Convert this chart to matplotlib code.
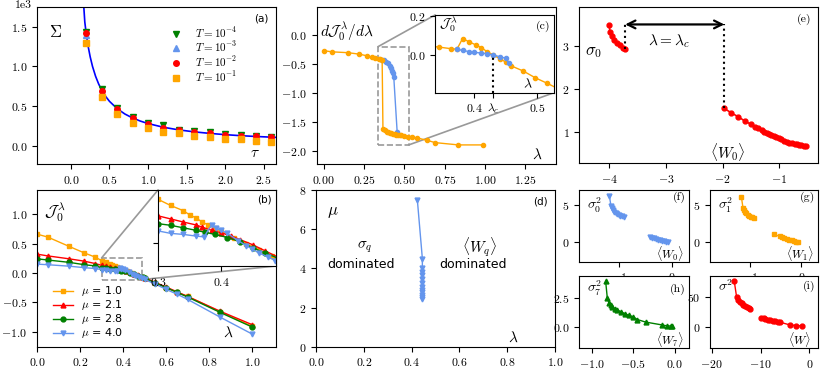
import numpy as np
import matplotlib
matplotlib.use("Agg")
import matplotlib.pyplot as plt
from matplotlib.patches import Rectangle, ConnectionPatch
from matplotlib.ticker import FuncFormatter

plt.rcParams['font.family'] = 'serif'
plt.rcParams['font.serif'] = ['cmr10', 'DejaVu Serif']
plt.rcParams['mathtext.fontset'] = 'cm'
plt.rcParams['xtick.labelsize'] = 8.5
plt.rcParams['ytick.labelsize'] = 8.5

ORANGE = 'orange'
BLUE = 'cornflowerblue'

# (a) Sigma vs tau
tau = [0.2, 0.4, 0.6, 0.8, 1.0, 1.2, 1.4, 1.6, 1.8, 2.0, 2.2, 2.4, 2.6]
sig_T4 = [1430, 710, 470, 360, 290, 265, 200, 180, 170, 150, 130, 120, 110]
sig_T3 = [1400, 680, 450, 340, 270, 220, 190, 170, 150, 130, 120, 110, 100]
sig_T2 = [1420, 690, 465, 350, 275, 230, 195, 175, 155, 140, 125, 125, 108]
sig_T1 = [1300, 620, 395, 285, 230, 175, 155, 125, 105, 80, 85, 60, 50]
tau_fit = [0.165, 0.18, 0.2, 0.22, 0.25, 0.28, 0.32, 0.36, 0.4, 0.45, 0.5, 0.6,
           0.7, 0.8, 0.9, 1.0, 1.2, 1.4, 1.6, 1.8, 2.0, 2.2, 2.4, 2.65]
sig_fit = [1780, 1560, 1400, 1270, 1120, 1000, 875, 778, 700, 622, 560, 467,
           400, 350, 311, 280, 233, 200, 175, 156, 140, 127, 117, 106]

# (b) J_0^lambda vs lambda for several mu
lam_mu1 = [0, 0.05, 0.15, 0.22, 0.27, 0.30, 0.32, 0.34, 0.35, 0.36, 0.37, 0.38, 0.39,
           0.40, 0.42, 0.44, 0.46, 0.48, 0.5, 0.55, 0.6, 0.65, 0.7, 0.85, 1.0]
J_mu1 = [0.66, 0.61, 0.45, 0.34, 0.27, 0.21, 0.18, 0.155, 0.135, 0.12, 0.10, 0.085, 0.07,
         0.055, 0.025, -0.005, -0.035, -0.065, -0.09, -0.17, -0.25, -0.33, -0.40, -0.66, -0.91]
lam_mu2 = [0, 0.05, 0.15, 0.22, 0.27, 0.30, 0.32, 0.34, 0.36, 0.37, 0.385, 0.40, 0.415,
           0.43, 0.45, 0.47, 0.49, 0.5, 0.55, 0.6, 0.65, 0.7, 0.85, 1.0]
J_mu2 = [0.32, 0.29, 0.24, 0.20, 0.16, 0.13, 0.115, 0.10, 0.086, 0.075, 0.06, 0.048, 0.033,
         0.015, -0.01, -0.04, -0.07, -0.085, -0.16, -0.24, -0.32, -0.40, -0.65, -0.88]
lam_mu3 = [0, 0.05, 0.15, 0.22, 0.27, 0.30, 0.32, 0.34, 0.36, 0.375, 0.39, 0.41, 0.43,
           0.45, 0.47, 0.49, 0.5, 0.55, 0.6, 0.65, 0.7, 0.85, 1.0]
J_mu3 = [0.24, 0.22, 0.18, 0.14, 0.12, 0.092, 0.084, 0.072, 0.06, 0.05, 0.04, 0.025, 0.005,
         -0.025, -0.05, -0.075, -0.09, -0.17, -0.25, -0.33, -0.41, -0.67, -0.92]
lam_mu4 = [0, 0.05, 0.15, 0.22, 0.27, 0.30, 0.32, 0.34, 0.36, 0.373, 0.385, 0.392, 0.40,
           0.41, 0.427, 0.44, 0.449, 0.46, 0.475, 0.486, 0.5, 0.55, 0.6, 0.65, 0.7, 0.85, 1.0]
J_mu4 = [0.15, 0.14, 0.115, 0.09, 0.075, 0.057, 0.045, 0.04, 0.032, 0.028, 0.087, 0.07, 0.06,
         0.045, 0.01, -0.015, -0.03, -0.05, -0.07, -0.087, -0.11, -0.19, -0.28, -0.36, -0.45,
         -0.75, -1.04]
mu_labels = ['1.0', '2.1', '2.8', '4.0']

# (c) dJ/dlambda and inset J
lam_c_or = [0, 0.05, 0.15, 0.22, 0.27, 0.30, 0.32, 0.34, 0.35, 0.362, 0.367, 0.38, 0.39,
            0.40, 0.41, 0.42, 0.43, 0.44, 0.45, 0.46, 0.47, 0.48, 0.50, 0.52, 0.55, 0.58,
            0.64, 0.69, 0.835, 0.99]
dJ_c_or = [-0.27, -0.29, -0.305, -0.33, -0.36, -0.385, -0.40, -0.415, -0.42, -0.43, -1.62,
           -1.65, -1.67, -1.68, -1.69, -1.70, -1.71, -1.715, -1.72, -1.725, -1.73, -1.735,
           -1.745, -1.755, -1.765, -1.78, -1.82, -1.86, -1.90, -1.90]
lam_c_bl = [0.36, 0.372, 0.383, 0.397, 0.409, 0.418, 0.424, 0.430, 0.434, 0.455]
dJ_c_bl = [-0.43, -0.44, -0.46, -0.49, -0.536, -0.576, -0.617, -0.66, -0.72, -1.67]
lam_ci_or = [0.32, 0.343, 0.362, 0.372, 0.381, 0.392, 0.402, 0.411, 0.42, 0.43, 0.44, 0.45,
             0.459, 0.478, 0.497, 0.516, 0.54]
J_ci_or = [0.05, 0.042, 0.034, 0.031, 0.085, 0.068, 0.053, 0.039, 0.019, 0.002, -0.017,
           -0.034, -0.054, -0.08, -0.114, -0.142, -0.18]
lam_ci_bl = [0.372, 0.381, 0.391, 0.40, 0.41, 0.42, 0.43, 0.44, 0.45, 0.455]
J_ci_bl = [0.031, 0.025, 0.019, 0.015, 0.012, 0.008, 0.002, -0.007, -0.015, -0.04]
lam_crit = 0.43

# (d) phase boundary
lam_d = [0.424, 0.445, 0.445, 0.445, 0.445, 0.445, 0.445, 0.445, 0.445, 0.445, 0.445,
         0.445, 0.445]
mu_d = [7.5, 4.5, 4.0, 3.8, 3.65, 3.45, 3.25, 3.05, 2.9, 2.8, 2.65, 2.55, 2.45]

# (e) sigma_0 vs <W_0>
e_x1 = [-4.0, -3.99, -3.96, -3.92, -3.87, -3.82, -3.76, -3.72]
e_y1 = [3.48, 3.33, 3.22, 3.14, 3.07, 3.01, 2.96, 2.92]
e_x2 = [-1.97, -1.85, -1.73, -1.61, -1.5, -1.43, -1.37, -1.31, -1.26, -1.22, -1.18, -1.14,
        -1.1, -1.05, -1.0, -0.96, -0.91, -0.87, -0.82, -0.78, -0.73, -0.69, -0.65, -0.61,
        -0.56, -0.52]
e_y2 = [1.54, 1.44, 1.35, 1.25, 1.17, 1.11, 1.08, 1.04, 1.0, 0.97, 0.95, 0.92, 0.9, 0.87,
        0.845, 0.82, 0.79, 0.76, 0.745, 0.73, 0.715, 0.70, 0.69, 0.68, 0.675, 0.67]

# (f)-(i) variances vs means
f_x1 = [-1.19, -1.16, -1.14, -1.12, -1.10, -1.07, -1.04, -1.01, -0.98, -0.95, -0.92]
f_y1 = [6.2, 4.9, 4.55, 4.3, 4.1, 3.95, 3.8, 3.68, 3.57, 3.47, 3.38]
f_x2 = [-0.42, -0.38, -0.34, -0.3, -0.26, -0.22, -0.18, -0.14, -0.1, -0.07]
f_y2 = [0.75, 0.62, 0.52, 0.43, 0.35, 0.27, 0.2, 0.14, 0.09, 0.05]
g_x1 = [-1.16, -1.13, -1.11, -1.09, -1.07, -1.04, -1.01, -0.98, -0.95, -0.92]
g_y1 = [6.0, 4.6, 4.35, 4.1, 3.9, 3.7, 3.55, 3.45, 3.33, 3.25]
g_x2 = [-0.53, -0.42, -0.38, -0.33, -0.28, -0.23, -0.18, -0.14, -0.1, -0.07]
g_y2 = [1.1, 0.78, 0.66, 0.55, 0.44, 0.34, 0.24, 0.16, 0.09, 0.05]
h_x = [-0.83, -0.81, -0.79, -0.77, -0.75, -0.72, -0.69, -0.65, -0.6, -0.55, -0.5, -0.45,
       -0.35, -0.15, -0.1, -0.05, -0.03]
h_y = [3.9, 2.45, 2.05, 1.85, 1.7, 1.55, 1.45, 1.3, 1.13, 0.98, 0.85, 0.62, 0.4, 0.15,
       0.08, 0.06, 0.04]
i_x1 = [-15.4, -14.9, -14.6, -14.2, -13.9, -13.5, -13.2, -12.8, -12.4, -12.1]
i_y1 = [78, 50, 46, 42, 39.5, 37, 35, 33, 31, 29.5]
i_x2 = [-9.9, -9.4, -9.0, -8.5, -8.0, -7.5, -7.0, -6.5, -6.0, -4.0, -2.7, -1.6]
i_y2 = [15.5, 14.2, 13.2, 12.2, 11.2, 10.3, 9.4, 8.5, 7.6, 3.0, 2.0, 1.3]

W, H = 822, 373
fig = plt.figure(figsize=(W / 100, H / 100), dpi=100)


def box(l, t, r, b):
    # pixel box -> figure fraction
    return [l / W, 1 - b / H, (r - l) / W, (b - t) / H]


def mfmt(dec, scale=1.0):
    # tick labels as mathtext so the minus comes from the cm symbol font
    def f(v, pos):
        s = '%.*f' % (dec, v / scale)
        if s.startswith('-') and float(s) == 0:
            s = s[1:]
        return '$%s$' % s
    return FuncFormatter(f)


def ticks(ax, xt, yt, xdec, ydec, yscale=1.0):
    ax.set_xticks(xt)
    ax.set_yticks(yt)
    ax.xaxis.set_major_formatter(mfmt(xdec))
    ax.yaxis.set_major_formatter(mfmt(ydec, yscale))


def lab(ax, s, x=0.97, y=0.96, sans=False):
    kw = dict(family='DejaVu Sans', fontsize=7.5) if sans else dict(fontsize=8.5)
    ax.text(x, y, s, transform=ax.transAxes, ha='right', va='top', **kw)


def txt(ax, x, y, s, size=11, **kw):
    ax.text(x, y, s, transform=ax.transAxes, fontsize=size, **kw)


# ---------- (a)
ax = fig.add_axes(box(37, 7.3, 276, 164))
ax.plot(tau_fit, sig_fit, color='blue', lw=1.2, zorder=1)
ax.plot(tau, sig_T4, 'v', color='green', ms=4, label=r'$T = 10^{-4}$')
ax.plot(tau, sig_T3, '^', color=BLUE, ms=4, label=r'$T = 10^{-3}$')
ax.plot(tau, sig_T2, 'o', color='red', ms=4, label=r'$T = 10^{-2}$')
ax.plot(tau, sig_T1, 's', color=ORANGE, ms=4, label=r'$T = 10^{-1}$')
ax.set_xlim(-0.44, 2.66)
ax.set_ylim(-230, 1745)
ticks(ax, [0, 0.5, 1.0, 1.5, 2.0, 2.5], [0, 500, 1000, 1500], 1, 1, yscale=1000)
ax.text(-0.02, 1.045, '1e3', transform=ax.transAxes, ha='right', va='top', fontsize=8.5)
ax.legend(loc='upper left', bbox_to_anchor=(0.55, 0.9), frameon=False, fontsize=8,
          handlelength=1, handletextpad=1.2, labelspacing=0.0, borderpad=0.2,
          borderaxespad=0)
txt(ax, 0.05, 0.84, r'$\Sigma$', size=12, va='center')
txt(ax, 0.91, 0.07, r'$\tau$', size=11, ha='center', va='center')
lab(ax, '(a)', sans=True)

# ---------- (b)
ax = fig.add_axes(box(37, 190, 276, 346.5))
series_b = [(lam_mu1, J_mu1, ORANGE, 's'), (lam_mu2, J_mu2, 'red', '^'),
            (lam_mu3, J_mu3, 'green', 'o'), (lam_mu4, J_mu4, BLUE, 'v')]
for (lx, jy, c, m), ml in zip(series_b, mu_labels):
    ax.plot(lx, jy, marker=m, color=c, ms=3.5, lw=1, label=r'$\mu$ = ' + ml)
ax.set_xlim(0, 1.11)
ax.set_ylim(-1.25, 1.41)
ticks(ax, [0, 0.2, 0.4, 0.6, 0.8, 1.0], [-1.0, -0.5, 0.0, 0.5, 1.0], 1, 1)
ax.legend(loc='lower left', bbox_to_anchor=(0.05, 0.01), frameon=False,
          prop={'family': 'DejaVu Sans', 'size': 8}, handlelength=1.8,
          handletextpad=0.7, labelspacing=0.0, borderaxespad=0)
txt(ax, 0.03, 0.86, r'$\mathcal{J}_0^{\,\lambda}$', size=12, va='center')
txt(ax, 0.8, 0.09, r'$\lambda$', size=11, ha='center', va='center')
axb = ax
rect_b = (0.3, -0.113, 0.487, 0.255)
ax.add_patch(Rectangle((rect_b[0], rect_b[1]), rect_b[2] - rect_b[0], rect_b[3] - rect_b[1],
                       fill=False, ls='--', ec='0.6', lw=1.2))

ins = fig.add_axes(box(158, 190, 276, 266))
for lx, jy, c, m in series_b:
    ins.plot(lx, jy, marker=m, color=c, ms=3.5, lw=1)
ins.set_xlim(rect_b[0], rect_b[2])
ins.set_ylim(rect_b[1], rect_b[3])
ins.set_xticks([0.3, 0.4])
ins.xaxis.set_major_formatter(mfmt(1))
ins.set_yticks([0.0])
ins.set_yticklabels([''])
lab(ins, '(b)', x=0.96, y=0.94, sans=True)
for pa, pb in [((rect_b[0], rect_b[3]), (0, 1)), ((rect_b[2], rect_b[1]), (1, 0))]:
    cp = ConnectionPatch(xyA=pa, coordsA=axb.transData, xyB=pb, coordsB=ins.transAxes,
                         color='0.6', lw=1.2)
    axb.add_artist(cp)

# ---------- (c)
ax = fig.add_axes(box(316.5, 7.3, 556, 164))
ax.plot(lam_c_bl, dJ_c_bl, 'o-', color=BLUE, ms=3, lw=1)
ax.plot(lam_c_or, dJ_c_or, 'o-', color=ORANGE, ms=3, lw=1)
ax.set_xlim(-0.045, 1.44)
ax.set_ylim(-2.23, 0.48)
ticks(ax, [0, 0.25, 0.5, 0.75, 1.0, 1.25], [-2.0, -1.5, -1.0, -0.5, 0.0], 2, 1)
txt(ax, 0.015, 0.845, r'$d\mathcal{J}_0^{\,\lambda}/d\lambda$', size=11, va='center')
txt(ax, 0.92, 0.06, r'$\lambda$', size=11, ha='center', va='center')
axc = ax
rect_c = (0.337, -1.9, 0.527, -0.2)
ax.add_patch(Rectangle((rect_c[0], rect_c[1]), rect_c[2] - rect_c[0], rect_c[3] - rect_c[1],
                       fill=False, ls='--', ec='0.6', lw=1.2))

ins = fig.add_axes(box(435, 15, 554, 92.7))
ins.plot(lam_ci_or, J_ci_or, 'o-', color=ORANGE, ms=3, lw=1)
ins.plot(lam_ci_bl, J_ci_bl, 'o-', color=BLUE, ms=3, lw=1)
ins.vlines(lam_crit, -0.19, 0.0, colors='k', linestyles=':', lw=1.5)
ins.set_xlim(0.337, 0.527)
ins.set_ylim(-0.19, 0.205)
ins.set_xticks([0.4, lam_crit, 0.5])
ins.set_xticklabels(['$0.4$', r'$\lambda_c$', '$0.5$'])
ins.set_yticks([0.0, 0.2])
ins.set_yticklabels(['$0.0$', '$0.2$'])
txt(ins, 0.03, 0.88, r'$\mathcal{J}_0^{\,\lambda}$', size=10, va='center')
txt(ins, 0.78, 0.1, r'$\lambda$', size=10, ha='center', va='center')
lab(ins, '(c)', x=0.97, y=0.93)
for pa, pb in [((rect_c[0], rect_c[3]), (0, 1)), ((rect_c[2], rect_c[1]), (1, 0))]:
    cp = ConnectionPatch(xyA=pa, coordsA=axc.transData, xyB=pb, coordsB=ins.transAxes,
                         color='0.6', lw=1.2)
    axc.add_artist(cp)

# ---------- (d)
ax = fig.add_axes(box(316, 190, 555, 346.7))
ax.plot(lam_d, mu_d, 'v-', color=BLUE, ms=3.5, lw=1)
ax.set_xlim(0, 1)
ax.set_ylim(0, 8)
ticks(ax, [0, 0.2, 0.4, 0.6, 0.8, 1.0], [0, 2, 4, 6, 8], 1, 0)
ax.text(0.205, 5.1, r'$\sigma_q$', fontsize=11, ha='center', va='center')
ax.text(0.19, 4.2, 'dominated', family='DejaVu Sans', fontsize=9, ha='center', va='center')
ax.text(0.684, 5.1, r'$\langle W_q\rangle$', fontsize=11, ha='center', va='center')
ax.text(0.655, 4.2, 'dominated', family='DejaVu Sans', fontsize=9, ha='center', va='center')
txt(ax, 0.07, 0.86, r'$\mu$', size=12, ha='center', va='center')
txt(ax, 0.825, 0.06, r'$\lambda$', size=11, ha='center', va='center')
lab(ax, '(d)', sans=True)

# ---------- (e)
ax = fig.add_axes(box(579.3, 7.3, 818.3, 163.3))
ax.plot(e_x1, e_y1, 'o-', color='red', ms=3.5, lw=1.2)
ax.plot(e_x2, e_y2, 'o-', color='red', ms=3.5, lw=1.2)
ax.vlines(e_x1[-1], e_y1[-1], 3.5, colors='k', linestyles=':', lw=1.5)
ax.vlines(e_x2[0], e_y2[0], 3.5, colors='k', linestyles=':', lw=1.5)
ax.annotate('', xy=(e_x2[0], 3.5), xytext=(e_x1[-1], 3.5),
            arrowprops=dict(arrowstyle='<->', color='k', lw=1.6, mutation_scale=14,
                            shrinkA=0, shrinkB=0))
ax.set_xlim(-4.53, -0.31)
ax.set_ylim(0.26, 3.9)
ticks(ax, [-4, -3, -2, -1], [1, 2, 3], 0, 0)
ax.text(-4.28, 2.84, r'$\sigma_0$', fontsize=12, ha='center', va='center')
ax.text(-2.95, 3.1, r'$\lambda = \lambda_c$', fontsize=11, ha='center', va='center')
ax.text(-1.9, 0.53, r'$\langle W_0\rangle$', fontsize=11, ha='center', va='center')
lab(ax, '(e)')

# ---------- (f)-(i)
small = [
    (box(579, 190, 689, 261.7), [(f_x1, f_y1), (f_x2, f_y2)], BLUE, 'v',
     (-1.77, 0.33), (-2.6, 7.0), [-1, 0], [0, 5], 0, 0,
     r'$\sigma_0^2$', r'$\langle W_0\rangle$', '(f)', 0.79, 0.97),
    (box(710, 190, 818.3, 261.7), [(g_x1, g_y1), (g_x2, g_y2)], ORANGE, 's',
     (-1.77, 0.33), (-2.6, 7.0), [-1, 0], [0, 5], 0, 0,
     r'$\sigma_1^2$', r'$\langle W_1\rangle$', '(g)', 0.79, 0.97),
    (box(579, 275.7, 689, 348.3), [(h_x, h_y)], 'green', '^',
     (-1.15, 0.17), (-1.86, 4.4), [-1.0, -0.5, 0.0], [0.0, 2.5], 1, 1,
     r'$\sigma_7^2$', r'$\langle W_7\rangle$', '(h)', 0.83, 0.89),
    (box(710, 275.7, 818.3, 348.3), [(i_x1, i_y1), (i_x2, i_y2)], 'red', 'o',
     (-20.35, 1.8), (-36.7, 86.7), [-20, -10, 0], [0, 50], 0, 0,
     r'$\sigma^2$', r'$\langle W\rangle$', '(i)', 0.86, 0.93),
]
for rect, branches, c, m, xl, yl, xt, yt, xd, yd, ylab, xlab, pl, ly, py in small:
    ax = fig.add_axes(rect)
    for bx, by in branches:
        ax.plot(bx, by, marker=m, color=c, ms=3.5, lw=1)
    ax.set_xlim(*xl)
    ax.set_ylim(*yl)
    ticks(ax, xt, yt, xd, yd)
    txt(ax, 0.07, ly, ylab, size=10, va='center')
    txt(ax, 0.83, 0.12, xlab, size=8.5, ha='center', va='center')
    lab(ax, pl, x=0.97, y=py)

fig.savefig('out.png', dpi=100)
